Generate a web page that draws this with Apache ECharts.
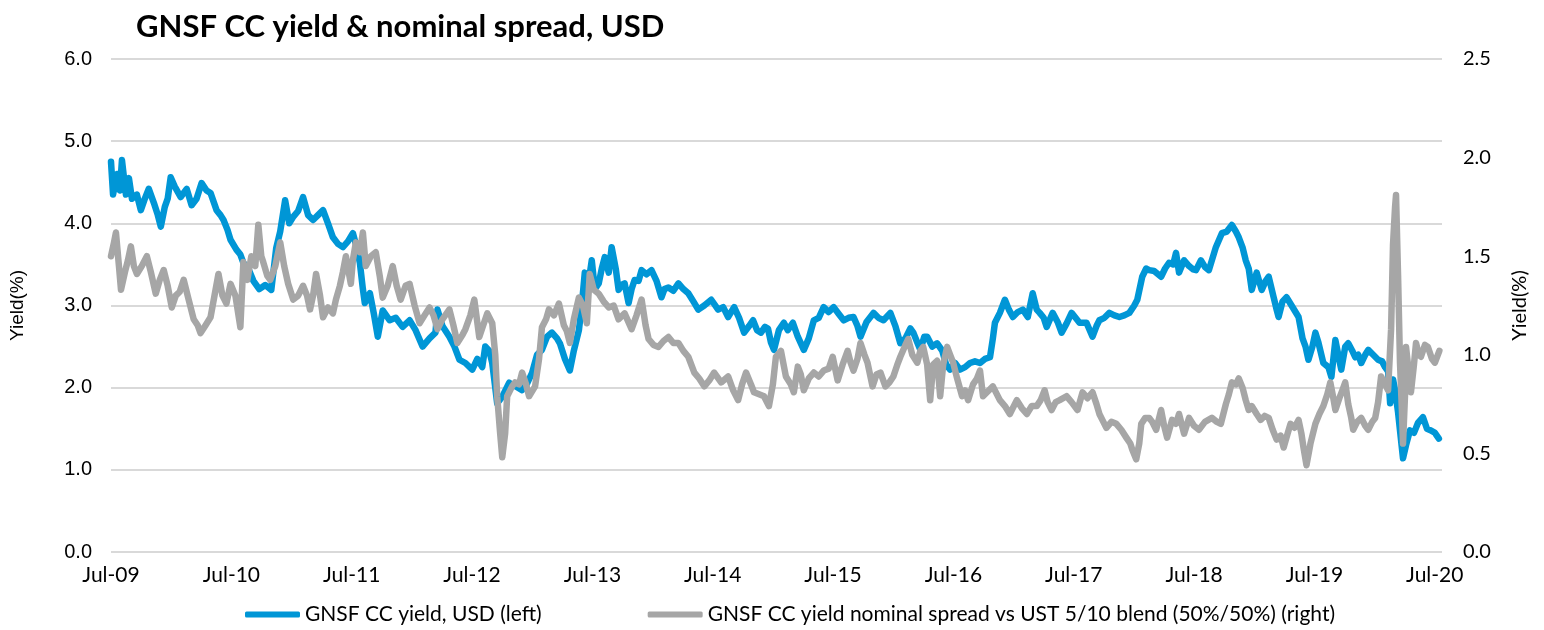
<!DOCTYPE html>
<html><head><meta charset="utf-8">
<script src="https://cdn.jsdelivr.net/npm/echarts@6/dist/echarts.min.js"></script>
<style>html,body{margin:0;padding:0;background:#fff}#c{width:1544px;height:630px}</style>
</head><body><div id="c"></div>
<script>
// Time in decimal years (2009.5 = Jul-09)
const yieldTime = [2009.500,2009.517,2009.550,2009.574,2009.591,2009.624,2009.649,2009.674,2009.715,2009.748,2009.781,2009.814,2009.856,2009.889,2009.914,2009.947,2009.971,2009.996,2010.029,2010.079,2010.129,2010.170,2010.211,2010.253,2010.294,2010.327,2010.377,2010.410,2010.435,2010.468,2010.493,2010.542,2010.575,2010.600,2010.641,2010.683,2010.732,2010.782,2010.832,2010.873,2010.906,2010.947,2010.981,2011.014,2011.055,2011.096,2011.138,2011.179,2011.220,2011.262,2011.303,2011.344,2011.386,2011.427,2011.469,2011.510,2011.543,2011.568,2011.593,2011.609,2011.651,2011.684,2011.717,2011.758,2011.816,2011.866,2011.923,2011.981,2012.031,2012.089,2012.147,2012.196,2012.213,2012.254,2012.312,2012.354,2012.395,2012.445,2012.502,2012.544,2012.585,2012.610,2012.643,2012.668,2012.709,2012.751,2012.809,2012.858,2012.916,2012.957,2012.999,2013.040,2013.081,2013.123,2013.164,2013.206,2013.230,2013.272,2013.313,2013.346,2013.388,2013.412,2013.437,2013.470,2013.495,2013.520,2013.553,2013.578,2013.603,2013.636,2013.660,2013.694,2013.718,2013.743,2013.768,2013.801,2013.826,2013.851,2013.884,2013.909,2013.950,2013.991,2014.033,2014.074,2014.099,2014.132,2014.173,2014.215,2014.256,2014.297,2014.339,2014.380,2014.430,2014.488,2014.545,2014.587,2014.628,2014.678,2014.719,2014.761,2014.802,2014.835,2014.868,2014.901,2014.934,2014.959,2014.984,2015.009,2015.050,2015.091,2015.124,2015.166,2015.207,2015.257,2015.298,2015.340,2015.381,2015.422,2015.464,2015.505,2015.546,2015.588,2015.629,2015.670,2015.703,2015.728,2015.778,2015.836,2015.877,2015.919,2015.976,2016.018,2016.059,2016.101,2016.142,2016.167,2016.200,2016.225,2016.258,2016.282,2016.324,2016.365,2016.407,2016.440,2016.473,2016.514,2016.555,2016.597,2016.638,2016.679,2016.721,2016.762,2016.804,2016.828,2016.845,2016.886,2016.928,2016.961,2016.994,2017.035,2017.077,2017.118,2017.159,2017.192,2017.217,2017.250,2017.275,2017.325,2017.366,2017.399,2017.440,2017.482,2017.515,2017.548,2017.606,2017.656,2017.689,2017.713,2017.755,2017.796,2017.838,2017.879,2017.920,2017.962,2018.003,2018.028,2018.069,2018.102,2018.127,2018.168,2018.226,2018.259,2018.292,2018.326,2018.350,2018.375,2018.417,2018.458,2018.491,2018.516,2018.557,2018.590,2018.623,2018.681,2018.731,2018.772,2018.814,2018.847,2018.871,2018.904,2018.929,2018.954,2018.979,2019.020,2019.062,2019.095,2019.120,2019.161,2019.186,2019.202,2019.235,2019.268,2019.310,2019.368,2019.401,2019.426,2019.450,2019.483,2019.508,2019.533,2019.574,2019.616,2019.641,2019.674,2019.698,2019.723,2019.756,2019.781,2019.814,2019.839,2019.864,2019.889,2019.922,2019.947,2019.988,2020.029,2020.062,2020.087,2020.112,2020.129,2020.153,2020.170,2020.195,2020.211,2020.236,2020.261,2020.294,2020.327,2020.360,2020.402,2020.435,2020.468,2020.501,2020.534];
const yieldUSD = [4.75,4.35,4.6,4.4,4.77,4.35,4.55,4.3,4.35,4.16,4.3,4.42,4.25,4.1,3.96,4.2,4.3,4.56,4.45,4.32,4.42,4.22,4.3,4.49,4.4,4.37,4.16,4.1,4.04,3.92,3.8,3.68,3.62,3.52,3.45,3.3,3.2,3.25,3.19,3.7,3.9,4.28,4.0,4.08,4.15,4.32,4.1,4.04,4.1,4.16,4.0,3.83,3.75,3.71,3.78,3.88,3.7,3.52,3.2,3.03,3.15,2.9,2.62,2.94,2.82,2.85,2.74,2.82,2.7,2.5,2.6,2.67,2.95,2.75,2.62,2.5,2.34,2.3,2.22,2.35,2.25,2.5,2.45,2.3,1.81,1.89,2.06,2.02,1.97,2.05,2.18,2.4,2.46,2.62,2.67,2.6,2.54,2.35,2.21,2.45,2.7,3.0,3.4,3.3,3.55,3.2,3.27,3.45,3.59,3.4,3.71,3.45,3.19,3.25,3.27,3.03,3.2,3.31,3.3,3.43,3.38,3.43,3.3,3.1,3.2,3.22,3.18,3.27,3.2,3.15,3.05,2.95,3.0,3.07,2.95,2.98,2.86,2.98,2.85,2.67,2.75,2.82,2.7,2.67,2.74,2.72,2.55,2.46,2.7,2.79,2.7,2.79,2.62,2.46,2.6,2.82,2.85,2.98,2.92,2.98,2.9,2.82,2.85,2.86,2.75,2.62,2.8,2.91,2.85,2.82,2.91,2.75,2.54,2.6,2.72,2.67,2.55,2.46,2.62,2.62,2.5,2.54,2.45,2.28,2.22,2.3,2.22,2.25,2.3,2.32,2.3,2.35,2.37,2.6,2.79,2.91,3.07,2.95,2.86,2.92,2.95,2.86,3.15,2.95,2.91,2.85,2.74,2.91,2.8,2.67,2.78,2.91,2.85,2.79,2.79,2.62,2.75,2.82,2.85,2.91,2.88,2.86,2.88,2.91,3.0,3.07,3.35,3.45,3.43,3.42,3.35,3.45,3.52,3.5,3.64,3.4,3.55,3.48,3.44,3.43,3.55,3.47,3.43,3.71,3.88,3.9,3.98,3.9,3.83,3.7,3.55,3.45,3.19,3.4,3.19,3.3,3.35,3.1,2.95,2.86,3.05,3.1,3.0,2.86,2.6,2.5,2.34,2.5,2.67,2.55,2.3,2.25,2.13,2.58,2.4,2.22,2.5,2.54,2.45,2.37,2.4,2.3,2.4,2.46,2.4,2.34,2.32,2.25,2.2,1.81,2.1,1.97,1.7,1.48,1.14,1.3,1.48,1.45,1.57,1.64,1.5,1.48,1.45,1.38];

const spreadTime = [2009.500,2009.525,2009.541,2009.566,2009.583,2009.616,2009.641,2009.665,2009.690,2009.715,2009.756,2009.798,2009.831,2009.872,2009.905,2009.938,2009.971,2010.005,2010.038,2010.071,2010.104,2010.145,2010.187,2010.220,2010.244,2010.286,2010.327,2010.360,2010.393,2010.426,2010.459,2010.493,2010.534,2010.575,2010.600,2010.633,2010.666,2010.699,2010.724,2010.749,2010.765,2010.799,2010.823,2010.865,2010.906,2010.939,2010.972,2011.014,2011.055,2011.096,2011.129,2011.154,2011.179,2011.204,2011.237,2011.262,2011.303,2011.344,2011.369,2011.402,2011.427,2011.452,2011.493,2011.510,2011.535,2011.568,2011.593,2011.617,2011.659,2011.700,2011.733,2011.758,2011.799,2011.841,2011.874,2011.907,2011.948,2011.981,2012.023,2012.064,2012.105,2012.147,2012.180,2012.213,2012.254,2012.312,2012.345,2012.378,2012.420,2012.445,2012.486,2012.519,2012.560,2012.593,2012.627,2012.668,2012.693,2012.709,2012.734,2012.751,2012.775,2012.792,2012.833,2012.858,2012.891,2012.916,2012.949,2012.974,2013.024,2013.057,2013.081,2013.115,2013.139,2013.181,2013.222,2013.263,2013.288,2013.313,2013.346,2013.388,2013.421,2013.454,2013.478,2013.512,2013.553,2013.594,2013.636,2013.677,2013.718,2013.768,2013.826,2013.867,2013.909,2013.942,2013.967,2014.008,2014.049,2014.091,2014.132,2014.173,2014.215,2014.256,2014.297,2014.347,2014.388,2014.430,2014.471,2014.512,2014.570,2014.628,2014.670,2014.711,2014.744,2014.777,2014.818,2014.843,2014.885,2014.926,2014.967,2015.000,2015.025,2015.067,2015.108,2015.149,2015.174,2015.207,2015.232,2015.257,2015.298,2015.340,2015.381,2015.422,2015.464,2015.497,2015.538,2015.579,2015.621,2015.646,2015.670,2015.703,2015.728,2015.761,2015.786,2015.828,2015.861,2015.894,2015.935,2015.968,2016.001,2016.034,2016.059,2016.101,2016.125,2016.158,2016.200,2016.225,2016.249,2016.282,2016.307,2016.332,2016.365,2016.390,2016.415,2016.448,2016.473,2016.498,2016.531,2016.572,2016.597,2016.622,2016.663,2016.696,2016.721,2016.746,2016.779,2016.828,2016.886,2016.928,2016.969,2017.027,2017.068,2017.110,2017.151,2017.192,2017.225,2017.258,2017.283,2017.316,2017.350,2017.383,2017.440,2017.482,2017.531,2017.573,2017.614,2017.656,2017.689,2017.713,2017.746,2017.771,2017.813,2017.854,2017.895,2017.937,2017.970,2017.986,2018.019,2018.044,2018.061,2018.094,2018.127,2018.152,2018.185,2018.226,2018.251,2018.276,2018.317,2018.350,2018.375,2018.417,2018.458,2018.499,2018.540,2018.590,2018.648,2018.689,2018.722,2018.764,2018.789,2018.814,2018.847,2018.871,2018.904,2018.929,2018.954,2018.979,2019.020,2019.053,2019.086,2019.120,2019.153,2019.186,2019.219,2019.244,2019.277,2019.301,2019.334,2019.368,2019.392,2019.409,2019.434,2019.467,2019.508,2019.541,2019.574,2019.607,2019.632,2019.657,2019.674,2019.707,2019.732,2019.756,2019.781,2019.806,2019.822,2019.855,2019.889,2019.922,2019.947,2019.980,2020.005,2020.029,2020.054,2020.087,2020.112,2020.137,2020.153,2020.170,2020.178,2020.195,2020.211,2020.228,2020.236,2020.253,2020.261,2020.286,2020.302,2020.327,2020.344,2020.368,2020.385,2020.418,2020.443,2020.476,2020.501,2020.538];
const spreadUST = [1.5,1.57,1.62,1.45,1.33,1.42,1.48,1.55,1.45,1.41,1.45,1.5,1.42,1.31,1.38,1.43,1.35,1.24,1.3,1.32,1.38,1.28,1.18,1.15,1.11,1.15,1.19,1.3,1.41,1.3,1.26,1.36,1.3,1.14,1.47,1.38,1.5,1.45,1.66,1.5,1.47,1.4,1.38,1.45,1.57,1.45,1.36,1.28,1.3,1.35,1.3,1.23,1.3,1.41,1.3,1.19,1.24,1.21,1.28,1.35,1.42,1.5,1.36,1.48,1.57,1.52,1.62,1.45,1.5,1.52,1.4,1.29,1.35,1.45,1.35,1.28,1.35,1.36,1.25,1.16,1.2,1.24,1.2,1.13,1.18,1.23,1.15,1.06,1.1,1.13,1.2,1.28,1.09,1.15,1.21,1.16,1.0,0.79,0.6,0.48,0.6,0.79,0.84,0.86,0.85,0.91,0.85,0.79,0.84,0.98,1.14,1.18,1.23,1.2,1.26,1.15,1.12,1.06,1.18,1.29,1.25,1.16,1.41,1.33,1.31,1.27,1.24,1.25,1.18,1.21,1.13,1.2,1.28,1.15,1.08,1.05,1.04,1.07,1.09,1.06,1.06,1.02,0.99,0.91,0.88,0.84,0.87,0.91,0.86,0.89,0.82,0.77,0.85,0.91,0.85,0.81,0.8,0.79,0.74,0.85,0.99,1.02,0.89,0.85,0.81,0.94,0.9,0.82,0.88,0.91,0.89,0.92,0.93,0.99,0.87,0.95,1.02,0.96,0.92,0.98,1.06,1.0,0.96,0.84,0.9,0.91,0.84,0.86,0.89,0.95,0.99,1.05,1.08,1.0,0.96,1.02,1.04,0.95,0.77,0.95,0.97,0.79,0.95,1.04,1.0,0.96,0.88,0.79,0.82,0.77,0.85,0.88,0.92,0.79,0.81,0.84,0.77,0.74,0.7,0.77,0.73,0.7,0.74,0.74,0.77,0.82,0.76,0.72,0.76,0.77,0.79,0.76,0.72,0.81,0.78,0.81,0.75,0.7,0.66,0.63,0.66,0.65,0.62,0.58,0.55,0.52,0.47,0.55,0.65,0.68,0.68,0.66,0.62,0.72,0.64,0.58,0.67,0.65,0.7,0.6,0.68,0.64,0.62,0.66,0.68,0.66,0.65,0.75,0.8,0.86,0.85,0.88,0.83,0.77,0.72,0.74,0.7,0.67,0.69,0.68,0.62,0.57,0.59,0.53,0.6,0.65,0.63,0.67,0.6,0.53,0.44,0.55,0.65,0.7,0.74,0.8,0.86,0.78,0.72,0.78,0.82,0.86,0.75,0.68,0.62,0.66,0.68,0.64,0.62,0.66,0.68,0.76,0.89,0.85,0.82,1.13,1.56,1.75,1.81,1.4,0.96,0.7,0.55,0.8,1.04,0.9,0.81,0.95,1.06,1.0,0.99,1.05,1.04,0.98,0.96,1.02,1.0];

const leftTicks = {min: 0, max: 6, interval: 1};
const rightTicks = {min: 0, max: 2.5, interval: 0.5};
const startYear = 2009.5;

const pairs = (t, v) => t.map((x, i) => [x - startYear, v[i]]);

const chart = echarts.init(document.getElementById('c'));
chart.setOption({
  animation: false,
  backgroundColor: '#fff',
  title: {
    text: 'GNSF CC yield & nominal spread, USD',
    left: 131, top: 6,
    textStyle: {fontFamily: 'Lato', fontWeight: 'bold', fontSize: 31, color: '#000'}
  },
  grid: {left: 107, right: 102, top: 59, bottom: 78},
  legend: {
    left: 240, bottom: 0,
    itemWidth: 55, itemHeight: 6, itemGap: 106,
    icon: 'roundRect',
    textStyle: {fontFamily: 'Lato', fontSize: 21, color: '#000'},
    data: ['GNSF CC yield, USD (left)', 'GNSF CC yield nominal spread vs UST 5/10 blend (50%/50%) (right)']
  },
  xAxis: {
    type: 'value', min: 0, max: 11.06, interval: 1,
    axisLine: {show: false}, axisTick: {show: false}, splitLine: {show: false},
    axisLabel: {
      fontFamily: 'Lato', fontSize: 21, color: '#000', margin: 13, showMaxLabel: false,
      formatter: v => Math.abs(v - Math.round(v)) < 1e-6 ? 'Jul-' + String(9 + Math.round(v)).padStart(2, '0') : ''
    }
  },
  yAxis: [
    {
      type: 'value', ...leftTicks, position: 'left',
      name: 'Yield(%)', nameLocation: 'middle', nameGap: 84, nameRotate: 90,
      nameTextStyle: {fontFamily: 'Liberation Sans', fontSize: 19, color: '#000'},
      axisLine: {show: false}, axisTick: {show: false},
      splitLine: {lineStyle: {color: '#d9d9d9', width: 2}},
      axisLabel: {fontFamily: 'Liberation Sans', fontSize: 20, color: '#000', margin: 19, formatter: v => v.toFixed(1)}
    },
    {
      type: 'value', ...rightTicks, position: 'right',
      name: 'Yield(%)', nameLocation: 'middle', nameGap: 68, nameRotate: 90,
      nameTextStyle: {fontFamily: 'Lato', fontSize: 20, color: '#000'},
      axisLine: {show: false}, axisTick: {show: false}, splitLine: {show: false},
      axisLabel: {fontFamily: 'Lato', fontSize: 20, color: '#000', margin: 21, formatter: v => v.toFixed(1)}
    }
  ],
  series: [
    {
      name: 'GNSF CC yield, USD (left)', type: 'line', yAxisIndex: 0,
      data: pairs(yieldTime, yieldUSD), showSymbol: false, symbol: 'none',
      lineStyle: {color: '#0096d6', width: 6.5, join: 'round', cap: 'round'},
      itemStyle: {color: '#0096d6'}
    },
    {
      name: 'GNSF CC yield nominal spread vs UST 5/10 blend (50%/50%) (right)', type: 'line', yAxisIndex: 1,
      data: pairs(spreadTime, spreadUST), showSymbol: false, symbol: 'none',
      lineStyle: {color: '#a6a6a6', width: 6.5, join: 'round', cap: 'round'},
      itemStyle: {color: '#a6a6a6'}
    }
  ]
});
</script></body></html>
